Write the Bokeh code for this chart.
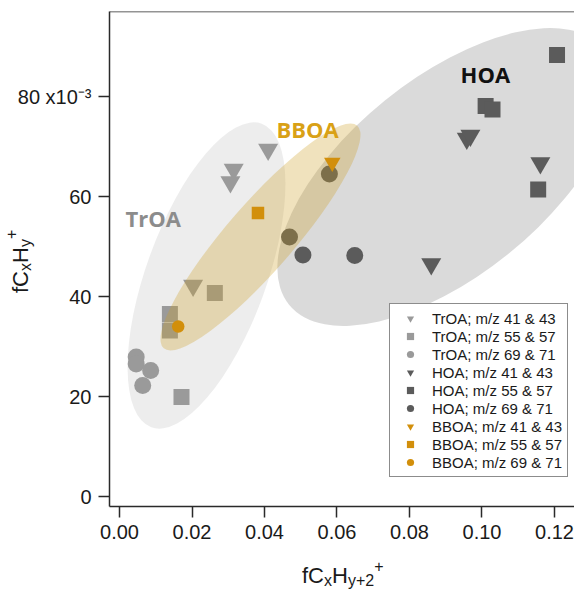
from bokeh.plotting import figure
from bokeh.layouts import column
from bokeh.models import (Range1d, FixedTicker, PrintfTickFormatter, Span, Label,
                          Legend, LegendItem, Div)
from bokeh.embed import file_html
from bokeh.resources import INLINE

# ---------------- data (x: fCxHy+2+, y: fCxHy+ in units of 1e-3) ----------------
troa_4143_x = [0.0410, 0.0315, 0.0306, 0.0203]
troa_4143_y = [69.4, 65.4, 62.9, 42.2]
troa_5557_x = [0.0139, 0.0139, 0.0263, 0.0171]
troa_5557_y = [36.5, 33.2, 40.7, 19.9]
troa_6971_x = [0.0046, 0.0046, 0.0086, 0.0064]
troa_6971_y = [27.9, 26.5, 25.2, 22.2]

hoa_4143_x = [0.0958, 0.0968, 0.1161, 0.0860]
hoa_4143_y = [71.6, 72.2, 66.7, 46.5]
hoa_5557_x = [0.1207, 0.1010, 0.1029, 0.1155]
hoa_5557_y = [88.3, 78.1, 77.4, 61.4]
hoa_6971_x = [0.0506, 0.0649, 0.0579, 0.0469]
hoa_6971_y = [48.3, 48.2, 64.5, 51.9]

bboa_4143_x = [0.0587]
bboa_4143_y = [66.8]
bboa_5557_x = [0.0382]
bboa_5557_y = [56.7]
bboa_6971_x = [0.0162]
bboa_6971_y = [34.0]

legend_labels = ["TrOA; m/z 41 & 43", "TrOA; m/z 55 & 57", "TrOA; m/z 69 & 71",
                 "HOA; m/z 41 & 43", "HOA; m/z 55 & 57", "HOA; m/z 69 & 71",
                 "BBOA; m/z 41 & 43", "BBOA; m/z 55 & 57", "BBOA; m/z 69 & 71"]
x_ticks = [0.0, 0.02, 0.04, 0.06, 0.08, 0.10, 0.12]
y_ticks = [0, 20, 40, 60, 80]

# ---------------- styling ----------------
TROA_C = "#9a9a9a"
HOA_C = "#5b5b5b"
BBOA_C = "#d28f0b"
TICK_FONT = "Liberation Sans"

p = figure(width=574, height=553, output_backend="svg", toolbar_location=None,
           x_range=Range1d(-0.00276, 0.12552), y_range=Range1d(-2.0, 97.0),
           min_border_left=109, min_border_right=0, min_border_top=11, min_border_bottom=47)
p.outline_line_color = None
p.background_fill_color = "white"
p.border_fill_color = "white"
p.grid.visible = False

for ax in (p.xaxis[0], p.yaxis[0]):
    ax.axis_line_color = "#2a2a2a"
    ax.axis_line_width = 1.5
    ax.major_tick_line_color = "#2a2a2a"
    ax.major_tick_line_width = 1.5
    ax.major_tick_out = 11
    ax.major_tick_in = 0
    ax.minor_tick_line_color = None
    ax.major_label_text_font = TICK_FONT
    ax.major_label_text_font_size = "20px"
    ax.major_label_text_color = "#1a1a1a"
    ax.major_label_standoff = 7
p.xaxis[0].ticker = FixedTicker(ticks=x_ticks)
p.xaxis[0].formatter = PrintfTickFormatter(format="%.2f")
p.yaxis[0].ticker = FixedTicker(ticks=y_ticks)
p.yaxis[0].major_label_overrides = {80: "80 x10\u207b\u00b3"}

# top frame line
p.add_layout(Span(location=97.0, dimension="width", line_color="#2a2a2a", line_width=1.5))

# ---------------- cluster ellipses (screen-sized) ----------------
p.ellipse(x=[0.0903], y=[63.9], width=[406], height=[197], angle=[39],
          width_units="screen", height_units="screen", angle_units="deg",
          fill_color="#cfcfcf", fill_alpha=0.78, line_color=None)
p.ellipse(x=[0.0240], y=[44.2], width=[323], height=[120], angle=[70],
          width_units="screen", height_units="screen", angle_units="deg",
          fill_color="#cccccc", fill_alpha=0.36, line_color=None)

# ---------------- grey markers ----------------
r1 = p.scatter(troa_4143_x, troa_4143_y, marker="inverted_triangle", size=20, fill_color=TROA_C, line_color=None)
r2 = p.scatter(troa_5557_x, troa_5557_y, marker="square", size=16, fill_color=TROA_C, line_color=None)
r3 = p.scatter(troa_6971_x, troa_6971_y, marker="circle", size=17, fill_color=TROA_C, line_color=None)
r4 = p.scatter(hoa_4143_x, hoa_4143_y, marker="inverted_triangle", size=20, fill_color=HOA_C, line_color=None)
r5 = p.scatter(hoa_5557_x, hoa_5557_y, marker="square", size=16, fill_color=HOA_C, line_color=None)
r6 = p.scatter(hoa_6971_x, hoa_6971_y, marker="circle", size=17, fill_color=HOA_C, line_color=None)

# BBOA ellipse over grey markers
p.ellipse(x=[0.0389], y=[51.9], width=[295], height=[67], angle=[49],
          width_units="screen", height_units="screen", angle_units="deg",
          fill_color="#cd9e26", fill_alpha=0.3, line_color=None)

r7 = p.scatter(bboa_4143_x, bboa_4143_y, marker="inverted_triangle", size=16.5, fill_color=BBOA_C, line_color=None)
r8 = p.scatter(bboa_5557_x, bboa_5557_y, marker="square", size=12.5, fill_color=BBOA_C, line_color=None)
r9 = p.scatter(bboa_6971_x, bboa_6971_y, marker="circle", size=12.5, fill_color=BBOA_C, line_color=None)

# ---------------- cluster names ----------------
for txt, lx, ly, col in [("TrOA", 0.00166, 55.7, "#8c8c8c"),
                         ("BBOA", 0.0433, 73.5, "#d9a116"),
                         ("HOA", 0.0941, 84.5, "#111111")]:
    p.add_layout(Label(x=lx, y=ly, text=txt, text_font="Open Sans", text_font_style="bold",
                       text_font_size="22px", text_color=col, text_align="left",
                       text_baseline="alphabetic"))

# ---------------- legend ----------------
renderers = [r1, r2, r3, r4, r5, r6, r7, r8, r9]
items = [LegendItem(label=lab, renderers=[r]) for lab, r in zip(legend_labels, renderers)]
legend = Legend(items=items, location=(280, 29), margin=0, padding=5, spacing=0,
                glyph_width=30, glyph_height=18, label_height=18, label_standoff=7,
                label_text_font=TICK_FONT, label_text_font_size="15px", label_text_color="#1a1a1a",
                border_line_color="#1a1a1a", border_line_width=1.2,
                background_fill_color="white", background_fill_alpha=1.0)
p.add_layout(legend)

# ---------------- axis titles with real sub/superscripts (HTML) ----------------
SUB = "font-size:16px;position:relative;top:3px;"
SUP = "font-size:16px;position:relative;top:-11px;"
BASE = ("position:absolute;white-space:nowrap;font-family:'Liberation Sans',Arial,sans-serif;"
        "font-size:22px;line-height:24px;color:#1a1a1a;")
x_title = (f'<span style="{BASE}left:302px;top:11px;">fC<span style="{SUB}">x</span>H'
           f'<span style="{SUB}">y+2</span><span style="{SUP}">+</span></span>')
y_title = (f'<span style="{BASE}left:9px;top:-260px;transform-origin:0 0;transform:rotate(-90deg);">'
           f'fC<span style="{SUB}">x</span>H<span style="{SUB}">y</span>'
           f'<span style="{SUP}">+</span></span>')
titles = Div(text=f'<div style="position:relative;width:574px;height:40px;overflow:visible;">'
                  f'{x_title}{y_title}</div>',
             width=574, height=40, styles={"overflow": "visible", "margin": "0", "padding": "0"})

layout = column(p, titles, spacing=0)
open("out.html", "w").write(file_html(layout, INLINE))
